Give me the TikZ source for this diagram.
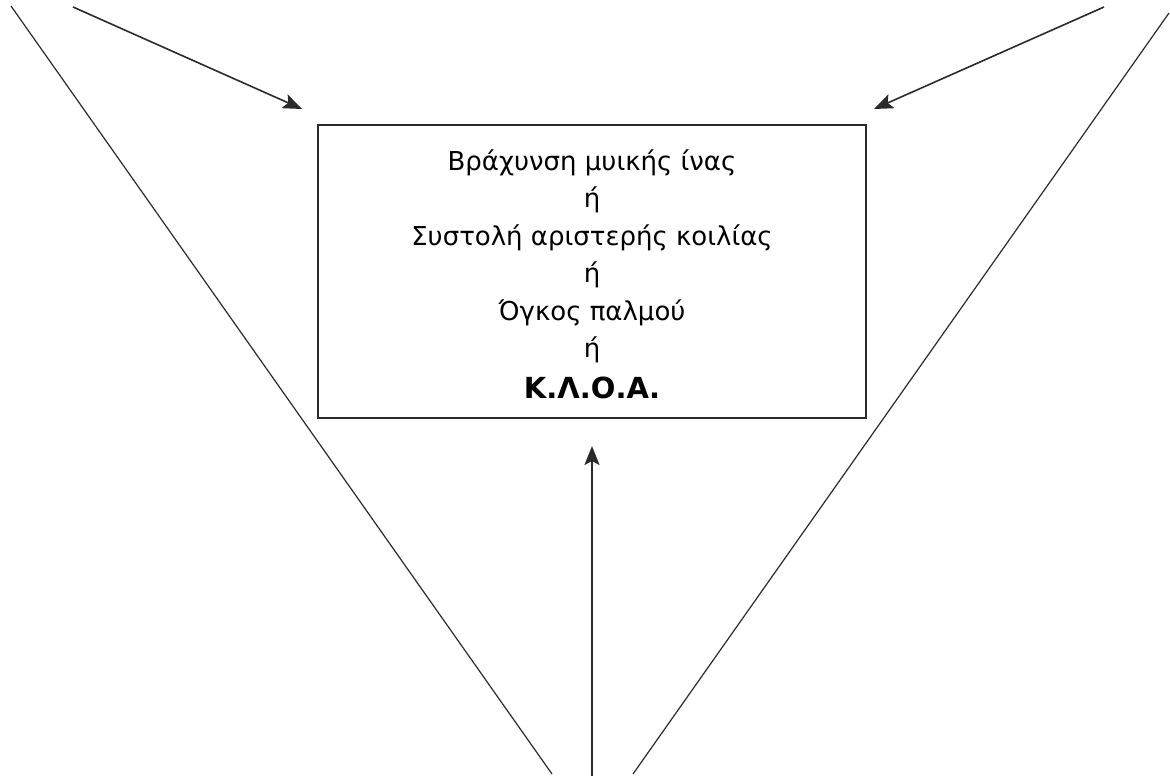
\documentclass[tikz,border=0pt]{standalone}
\usepackage{fontspec}
\setmainfont{DejaVu Sans}
\usetikzlibrary{arrows.meta}
\definecolor{ink}{HTML}{2A2A2A}
\tikzset{
  px/.style={x=1pt,y=-1pt},
  thinline/.style={draw=ink,line width=1.2pt},
  pointer/.style={draw=ink,line width=1.6pt,-{Stealth[length=19pt,width=15pt,inset=4pt]}},
  framebox/.style={draw=ink,line width=1.4pt,minimum width=548pt,minimum height=293pt,inner sep=0pt},
  boxtext/.style={align=center,font=\fontsize{26}{37.5}\selectfont,inner sep=0pt}
}
\begin{document}
\begin{tikzpicture}[px]
\useasboundingbox (0,0) rectangle (1170,776);
\clip (0,0) rectangle (1170,776);

% central box and its text
\node[framebox] (box) at (592,271.5) {};
\node[boxtext] (txt) at (592,274) {Βράχυνση μυικής ίνας\\ ή\\ Συστολή αριστερής κοιλίας\\ ή\\ Όγκος παλμού\\ ή\\[3pt] {\fontsize{29}{32}\selectfont\bfseries Κ.Λ.Ο.Α.}};

% free ends of the connectors
\coordinate (lsrc) at (73,7);
\coordinate (ltip) at (302,109);
\coordinate (rsrc) at (1104,7);
\coordinate (rtip) at (874,109);
\coordinate (bsrc) at (592,776);
\coordinate (btip) at (592,446);
\coordinate (ltop) at (11,6);
\coordinate (lbot) at (552,774);
\coordinate (rtop) at (1169,13);
\coordinate (rbot) at (633,774);

% arrows pointing at the box
\draw[pointer] (lsrc) -- (ltip);
\draw[pointer] (rsrc) -- (rtip);
\draw[pointer] (bsrc) -- (btip);

% the two long diagonals
\draw[thinline] (ltop) -- (lbot);
\draw[thinline] (rtop) -- (rbot);
\end{tikzpicture}
\end{document}
